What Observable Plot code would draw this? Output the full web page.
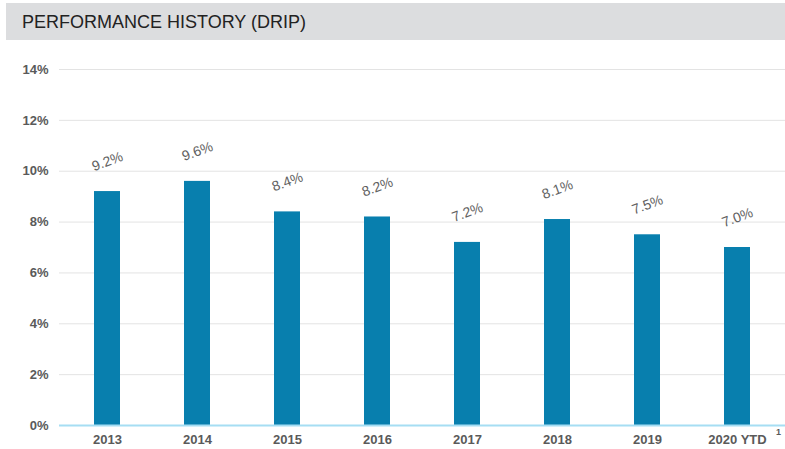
<!DOCTYPE html>
<html>
<head>
<meta charset="utf-8">
<script src="https://cdn.jsdelivr.net/npm/d3@7"></script>
<script src="https://cdn.jsdelivr.net/npm/@observablehq/plot@0.6"></script>
<style>
  body { margin: 0; background: #fff; font-family: "Liberation Sans", Arial, sans-serif; }
  #title { position: absolute; left: 6px; top: 3px; width: 779px; height: 37px; background: #dcdddf;
    font-size: 18px; color: #222; line-height: 38px; padding-left: 16px; box-sizing: border-box; }
  #chart { position: absolute; left: 0; top: 44px; }
</style>
</head>
<body>
<div id="title">PERFORMANCE HISTORY (DRIP)</div>
<div id="chart"></div>
<script>
const years = ["2013", "2014", "2015", "2016", "2017", "2018", "2019", "2020 YTD"];
const returns = [9.2, 9.6, 8.4, 8.2, 7.2, 8.1, 7.5, 7.0];
const yTicks = [0, 2, 4, 6, 8, 10, 12, 14];

const data = years.map((y, i) => ({year: y, value: returns[i]}));

const chart = Plot.plot({
  width: 785,
  height: 405,
  marginLeft: 59,
  marginRight: 0,
  marginTop: 25,
  marginBottom: 24,
  style: {fontFamily: "'Liberation Sans', Arial, sans-serif", background: "transparent"},
  x: {domain: years, paddingInner: 0.714, paddingOuter: 0.357, label: null},
  y: {domain: [0, 14], label: null},
  marks: [
    Plot.ruleY(yTicks.filter(d => d > 0), {stroke: "#e3e3e3", strokeWidth: 1}),
    Plot.axisY(yTicks, {tickSize: 0, tickPadding: 11, tickFormat: d => d + "%", fontSize: 13, fontWeight: "bold", fill: "#5a5a5a", label: null}),
    Plot.axisX({tickSize: 0, tickPadding: 9, fontSize: 13, fontWeight: "bold", fill: "#5a5a5a", label: null}),
    Plot.barY(data, {x: "year", y: "value", fill: "#087fae"}),
    Plot.ruleY([0], {stroke: "#a6def3", strokeWidth: 2}),
    Plot.text(data, {x: "year", y: "value", text: d => d.value.toFixed(1) + "%", rotate: -20, dy: -30, fontSize: 14, fill: "#616161"}),
    Plot.text(["1"], {x: () => "2020 YTD", y: () => 0, text: d => d, dx: 41, dy: 7, fontSize: 9, fill: "#5a5a5a", fontWeight: "bold"})
  ]
});
document.getElementById("chart").appendChild(chart);
</script>
</body>
</html>
